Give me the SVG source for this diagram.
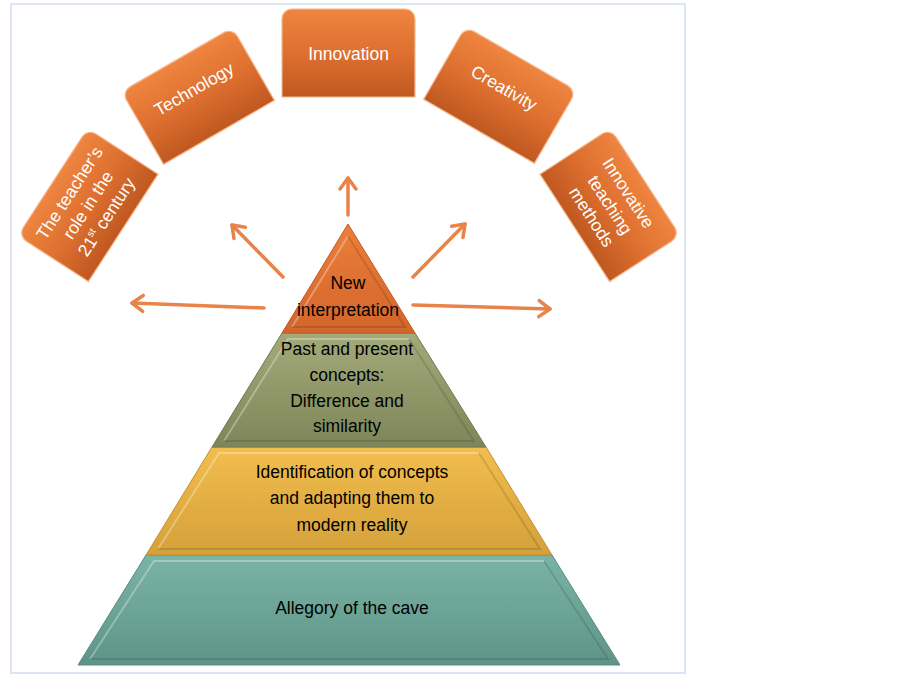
<svg xmlns="http://www.w3.org/2000/svg" width="903" height="681" viewBox="0 0 903 681">
<defs>
<linearGradient id="gBox" x1="0" y1="0" x2="0" y2="1">
<stop offset="0" stop-color="#EE8540"/>
<stop offset="0.5" stop-color="#DE7030"/>
<stop offset="1" stop-color="#BF5820"/>
</linearGradient>
<linearGradient id="gOr" x1="0" y1="0" x2="0" y2="1">
<stop offset="0" stop-color="#EC7F3A"/>
<stop offset="1" stop-color="#D2652A"/>
</linearGradient>
<linearGradient id="gGr" x1="0" y1="0" x2="0" y2="1">
<stop offset="0" stop-color="#A3AA7A"/>
<stop offset="1" stop-color="#7E8659"/>
</linearGradient>
<linearGradient id="gYe" x1="0" y1="0" x2="0" y2="1">
<stop offset="0" stop-color="#F2BE4E"/>
<stop offset="1" stop-color="#D4A03A"/>
</linearGradient>
<linearGradient id="gTe" x1="0" y1="0" x2="0" y2="1">
<stop offset="0" stop-color="#7AB4A6"/>
<stop offset="1" stop-color="#5E9487"/>
</linearGradient>
<marker id="ah" markerUnits="userSpaceOnUse" markerWidth="20" markerHeight="20" refX="14" refY="10" orient="auto" overflow="visible">
<path d="M3,2 L14,10 L3,18" fill="none" stroke="#E8834A" stroke-width="3.5" stroke-linecap="round" stroke-linejoin="round"/>
</marker>
</defs>
<style>
.box{fill:url(#gBox);stroke:#F6B98F;stroke-width:1.2}
.bt{font-family:"Liberation Sans",Arial,sans-serif;font-size:17.5px;fill:#FFFFFF;text-anchor:middle}
.pt{font-family:"Liberation Sans",Arial,sans-serif;font-size:17.5px;fill:#000000;text-anchor:middle}
.arr{fill:none;stroke:#E8834A;stroke-width:3.5;stroke-linecap:round;marker-end:url(#ah)}
.bev{fill:none;stroke:#FFFFFF;stroke-opacity:0.3;stroke-width:2}
.bevd{fill:none;stroke:#000000;stroke-opacity:0.12;stroke-width:2}
</style>
<rect x="11" y="4" width="674" height="669" fill="#FFFFFF" stroke="#DCE6F2" stroke-width="2"/>

<g id="layer-cave">
<polygon points="146,555 552,555 620,665 78,665" fill="url(#gTe)" stroke="#5A8B7F" stroke-width="1"/>
<polyline points="90,659 154,561 544,561" class="bev"/>
<polyline points="544,561 608,659 90,659" class="bevd"/>
<text class="pt" x="352" y="614">Allegory of the cave</text>
</g>
<g id="layer-identification">
<polygon points="212,447 486,447 552,555 146,555" fill="url(#gYe)" stroke="#C09030" stroke-width="1"/>
<polyline points="158,549 219,453 479,453" class="bev"/>
<polyline points="479,453 540,549 158,549" class="bevd"/>
<text class="pt" x="352" y="478">Identification of concepts</text>
<text class="pt" x="352" y="504">and adapting them to</text>
<text class="pt" x="352" y="531">modern reality</text>
</g>
<g id="layer-past">
<polygon points="282,333 415,333 486,447 212,447" fill="url(#gGr)" stroke="#737A50" stroke-width="1"/>
<polyline points="224,441 288,339 409,339" class="bev"/>
<polyline points="409,339 474,441 224,441" class="bevd"/>
<text class="pt" x="347" y="355">Past and present</text>
<text class="pt" x="347" y="381">concepts:</text>
<text class="pt" x="347" y="407">Difference and</text>
<text class="pt" x="347" y="432">similarity</text>
</g>
<g id="layer-new">
<polygon points="348,224 415,333 282,333" fill="url(#gOr)" stroke="#C45A20" stroke-width="1"/>
<polyline points="292,327 348,236" class="bev"/>
<polyline points="348,236 405,327 292,327" class="bevd"/>
<text class="pt" x="348" y="289">New</text>
<text class="pt" x="348" y="316">interpretation</text>
</g>

<g id="connectors">
<line class="arr" x1="348" y1="215" x2="348" y2="178"/>
<line class="arr" x1="283" y1="277" x2="232" y2="225"/>
<line class="arr" x1="413" y1="277" x2="465" y2="224"/>
<line class="arr" x1="264" y1="308" x2="132" y2="303"/>
<line class="arr" x1="413" y1="305" x2="550" y2="309"/>
</g>

<g id="box-teacher" transform="translate(88,205) rotate(-57)">
<path class="box" d="M-64,42 L-64,-32 A10,10 0 0 1 -54,-42 L54,-42 A10,10 0 0 1 64,-32 L64,42 Z"/>
<text class="bt" x="0" y="-16">The teacher’s</text>
<text class="bt" x="0" y="6">role in the</text>
<text class="bt" x="0" y="28">21<tspan font-size="10" dy="-7">st</tspan><tspan dy="7"> century</tspan></text>
</g>
<g id="box-technology" transform="translate(198,96) rotate(-30)">
<path class="box" d="M-64,42 L-64,-32 A10,10 0 0 1 -54,-42 L54,-42 A10,10 0 0 1 64,-32 L64,42 Z"/>
<text class="bt" x="0" y="-2">Technology</text>
</g>
<g id="box-innovation" transform="translate(348.5,53)">
<path class="box" d="M-66.5,44 L-66.5,-34 A10,10 0 0 1 -56.5,-44 L56.5,-44 A10,10 0 0 1 66.5,-34 L66.5,44 Z"/>
<text class="bt" x="0" y="7">Innovation</text>
</g>
<g id="box-creativity" transform="translate(500,95) rotate(30)">
<path class="box" d="M-64,42 L-64,-32 A10,10 0 0 1 -54,-42 L54,-42 A10,10 0 0 1 64,-32 L64,42 Z"/>
<text class="bt" x="0" y="-2">Creativity</text>
</g>
<g id="box-methods" transform="translate(610,205) rotate(57)">
<path class="box" d="M-64,42 L-64,-32 A10,10 0 0 1 -54,-42 L54,-42 A10,10 0 0 1 64,-32 L64,42 Z"/>
<text class="bt" x="0" y="-16">Innovative</text>
<text class="bt" x="0" y="6">teaching</text>
<text class="bt" x="0" y="28">methods</text>
</g>
</svg>
